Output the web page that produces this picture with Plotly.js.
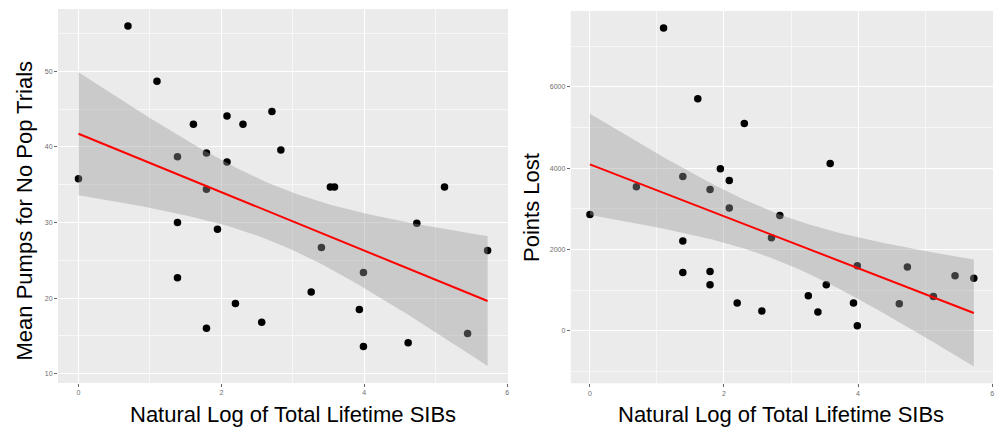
<!DOCTYPE html>
<html><head><meta charset="utf-8">
<script src="https://cdn.plot.ly/plotly-3.0.1.min.js"></script>
<style>html,body{margin:0;padding:0;background:#fff}#chart{width:995px;height:430px}</style>
</head><body><div id="chart"></div>
<script>
// ---- data ----
const sibsLogA = [0, 0.693, 1.099, 1.609, 1.386, 1.792, 2.079, 2.303, 2.079, 1.792, 1.386, 1.946, 1.386, 2.197, 1.792, 2.565, 2.708, 2.833, 3.526, 3.584, 5.124, 4.736, 3.401, 5.727, 3.989, 3.258, 3.932, 5.447, 4.615, 3.989];
const meanPumps = [35.8, 56.0, 48.7, 43.0, 38.7, 39.2, 44.1, 43.0, 38.0, 34.4, 30.0, 29.1, 22.7, 19.3, 16.0, 16.8, 44.7, 39.6, 34.7, 34.7, 34.7, 29.9, 26.7, 26.3, 23.4, 20.8, 18.5, 15.3, 14.1, 13.6];
const sibsLogB = [1.099, 1.609, 2.303, 1.946, 2.079, 1.386, 0.693, 1.792, 2.079, 0, 1.386, 1.386, 1.792, 1.792, 2.197, 3.584, 2.833, 2.708, 3.989, 4.736, 5.447, 5.727, 5.124, 4.615, 3.526, 3.258, 3.932, 3.401, 3.989, 2.565];
const pointsLost = [7450, 5710, 5100, 3985, 3695, 3795, 3545, 3475, 3020, 2860, 2210, 1430, 1455, 1130, 680, 4115, 2835, 2285, 1600, 1570, 1350, 1290, 840, 665, 1130, 860, 680, 460, 125, 485];
const xTitle = "Natural Log of Total Lifetime SIBs";
const yTitleA = "Mean Pumps for No Pop Trials";
const yTitleB = "Points Lost";

// ---- linear model with 95% confidence band (like geom_smooth(method = "lm")) ----
function tQuantile975(df) {
  const z = 1.959963985;
  const z3 = z*z*z, z5 = z3*z*z, z7 = z5*z*z;
  return z + (z3 + z)/(4*df) + (5*z5 + 16*z3 + 3*z)/(96*df*df) + (3*z7 + 19*z5 + 17*z3 - 15*z)/(384*df*df*df);
}
function lmFit(x, y) {
  const n = x.length;
  const mx = x.reduce((a,b)=>a+b,0)/n, my = y.reduce((a,b)=>a+b,0)/n;
  let sxx = 0, sxy = 0;
  for (let i=0;i<n;i++){ sxx += (x[i]-mx)**2; sxy += (x[i]-mx)*(y[i]-my); }
  const b = sxy/sxx, a = my - b*mx;
  let sse = 0;
  for (let i=0;i<n;i++){ sse += (y[i]-a-b*x[i])**2; }
  const s = Math.sqrt(sse/(n-2)), t = tQuantile975(n-2);
  const x0 = Math.min(...x), x1 = Math.max(...x);
  const gx = [], fit = [], lo = [], hi = [];
  for (let k=0;k<80;k++){
    const xv = x0 + (x1-x0)*k/79;
    const f = a + b*xv;
    const se = s*Math.sqrt(1/n + (xv-mx)**2/sxx);
    gx.push(xv); fit.push(f); lo.push(f - t*se); hi.push(f + t*se);
  }
  return {gx, fit, lo, hi};
}
function expand(vals) {
  const mn = Math.min(...vals), mx = Math.max(...vals), d = (mx-mn)*0.05;
  return [mn-d, mx+d];
}

const fitA = lmFit(sibsLogA, meanPumps);
const fitB = lmFit(sibsLogB, pointsLost);

function panelTraces(x, y, f, xa, ya) {
  return [
    {x: x, y: y, xaxis: xa, yaxis: ya, type: 'scatter', mode: 'markers',
     marker: {color: '#000000', size: 7.5}, hoverinfo: 'skip'},
    {x: f.gx, y: f.lo, xaxis: xa, yaxis: ya, type: 'scatter', mode: 'lines',
     line: {width: 0, color: 'rgba(0,0,0,0)'}, hoverinfo: 'skip'},
    {x: f.gx, y: f.hi, xaxis: xa, yaxis: ya, type: 'scatter', mode: 'lines',
     fill: 'tonexty', fillcolor: 'rgba(153,153,153,0.4)',
     line: {width: 0, color: 'rgba(0,0,0,0)'}, hoverinfo: 'skip'},
    {x: f.gx, y: f.fit, xaxis: xa, yaxis: ya, type: 'scatter', mode: 'lines',
     line: {color: '#FF0000', width: 2}, hoverinfo: 'skip'}
  ];
}

const data = [].concat(
  panelTraces(sibsLogA, meanPumps, fitA, 'x', 'y'),
  panelTraces(sibsLogB, pointsLost, fitB, 'x2', 'y2')
);

const minorGrid = {showgrid: true, gridcolor: '#F7F7F7', gridwidth: 1};
const baseAxis = {
  showgrid: true, gridcolor: '#FFFFFF', gridwidth: 1,
  zeroline: false, showline: false,
  ticks: 'outside', ticklen: 3, tickwidth: 1, tickcolor: '#666666',
  tickfont: {size: 7, color: '#6E6E6E'},
  fixedrange: true
};
function axis(extra) { return Object.assign({}, baseAxis, extra); }

const xRangeA = expand(sibsLogA), xRangeB = expand(sibsLogB);
const yRangeA = expand(meanPumps.concat(fitA.lo, fitA.hi));
const yRangeB = expand(pointsLost.concat(fitB.lo, fitB.hi));

const titleFont = {family: 'Liberation Sans, Arial, sans-serif', size: 22, color: '#000000'};

const layout = {
  width: 995, height: 430,
  margin: {l: 0, r: 0, t: 0, b: 0},
  paper_bgcolor: '#FFFFFF', plot_bgcolor: '#EBEBEB',
  showlegend: false, hovermode: false,
  font: {family: 'Liberation Sans, Arial, sans-serif'},
  xaxis: axis({domain: [0.0583, 0.5106], anchor: 'y', range: xRangeA, tick0: 0, dtick: 2,
    minor: Object.assign({tick0: 0, dtick: 1}, minorGrid)}),
  yaxis: axis({domain: [0.1093, 0.979], anchor: 'x', range: yRangeA, tick0: 0, dtick: 10,
    minor: Object.assign({tick0: 0, dtick: 5}, minorGrid)}),
  xaxis2: axis({domain: [0.5736, 0.998], anchor: 'y2', range: xRangeB, tick0: 0, dtick: 2,
    minor: Object.assign({tick0: 0, dtick: 1}, minorGrid)}),
  yaxis2: axis({domain: [0.1086, 0.9744], anchor: 'x2', range: yRangeB, tick0: 0, dtick: 2000,
    minor: Object.assign({tick0: 0, dtick: 1000}, minorGrid)}),
  annotations: [
    {text: xTitle, xref: 'paper', yref: 'paper', x: 0.294, y: 0.035, xanchor: 'center', yanchor: 'middle', showarrow: false, font: titleFont},
    {text: xTitle, xref: 'paper', yref: 'paper', x: 0.7854, y: 0.035, xanchor: 'center', yanchor: 'middle', showarrow: false, font: titleFont},
    {text: yTitleA, xref: 'paper', yref: 'paper', x: 0.0246, y: 0.5116, xanchor: 'center', yanchor: 'middle', textangle: -90, showarrow: false, font: titleFont},
    {text: yTitleB, xref: 'paper', yref: 'paper', x: 0.5347, y: 0.5163, xanchor: 'center', yanchor: 'middle', textangle: -90, showarrow: false, font: titleFont}
  ]
};

Plotly.newPlot('chart', data, layout, {displayModeBar: false, staticPlot: true});
</script>
</body></html>
